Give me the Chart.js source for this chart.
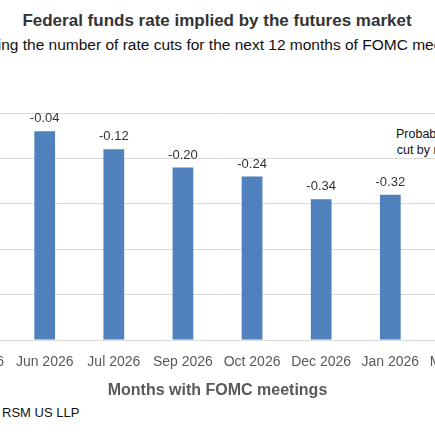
<!DOCTYPE html>
<html>
<head>
<meta charset="utf-8">
<script src="https://cdn.jsdelivr.net/npm/chart.js@4"></script>
<style>
  html, body { margin: 0; padding: 0; width: 435px; height: 435px; overflow: hidden; background: #fff; font-family: "Liberation Sans", Arial, sans-serif; }
  #wrap { position: absolute; left: -83px; top: 0; width: 600px; height: 435px; }
  #title { position: absolute; top: 11px; width: 600px; text-align: center; font-weight: bold; font-size: 17px; color: #333; }
  #subtitle { position: absolute; top: 36px; width: 600px; text-align: center; font-size: 15.5px; color: #111; }
  #note { position: absolute; left: 479px; top: 126px; font-size: 12.5px; color: #111; text-align: center; line-height: 16px; }
  #source { position: absolute; left: 85px; top: 405px; font-size: 13px; color: #111; }
  canvas { position: absolute; left: 0; top: 0; }
</style>
</head>
<body>
<div id="wrap">
  <div id="title">Federal funds rate implied by the futures market</div>
  <div id="subtitle">Showing the number of rate cuts for the next 12 months of FOMC meetings</div>
  <div id="note">Probability of a<br>cut by meeting</div>
  <div id="source"><span style="position:absolute;right:100%;white-space:nowrap">Source:&nbsp;</span>RSM&nbsp;US&nbsp;LLP</div>
  <canvas id="chart" width="600" height="400"></canvas>
</div>
<script>
// meeting months and implied number of cuts
const months = ['Apr 2026', 'Jun 2026', 'Jul 2026', 'Sep 2026', 'Oct 2026', 'Dec 2026', 'Jan 2026', 'Mar 2027'];
const cuts = [null, -0.04, -0.12, -0.20, -0.24, -0.34, -0.32, null];

// draw value labels above bars
const labelPlugin = {
    id: 'barLabels',
    afterDatasetsDraw(chart) {
        const ctx = chart.ctx;
        const meta = chart.getDatasetMeta(0);
        ctx.save();
        ctx.font = '13px "Liberation Sans", Arial, sans-serif';
        ctx.fillStyle = '#333';
        ctx.textAlign = 'center';
        ctx.textBaseline = 'bottom';
        meta.data.forEach((bar, i) => {
            if (cuts[i] === null) return;
            ctx.fillText(cuts[i].toFixed(2), bar.x, bar.y - 6);
        });
        ctx.restore();
    }
};

new Chart(document.getElementById('chart'), {
    type: 'bar',
    data: {
        labels: months,
        datasets: [{
            data: cuts,
            base: -0.96,
            backgroundColor: '#4f81bd',
            barPercentage: 0.3,
            categoryPercentage: 1
        }]
    },
    options: {
        responsive: false,
        animation: false,
        layout: { padding: { left: 24, right: 23, top: 113, bottom: 0 } },
        plugins: { legend: { display: false }, tooltip: { enabled: false } },
        scales: {
            x: {
                grid: { display: false },
                border: { color: '#d9d9d9' },
                ticks: { color: '#595959', padding: 6, font: { size: 14, family: '"Liberation Sans", Arial' }, maxRotation: 0, autoSkip: false },
                title: { display: true, text: 'Months with FOMC meetings', color: '#595959', font: { size: 16, weight: 'bold', family: '"Liberation Sans", Arial' }, padding: { top: 4, bottom: 0 } }
            },
            y: {
                min: -0.96,
                max: 0.04,
                ticks: { display: false, stepSize: 0.2 },
                grid: { color: '#d9d9d9', drawTicks: false },
                border: { display: false }
            }
        }
    },
    plugins: [labelPlugin]
});
</script>
</body>
</html>
